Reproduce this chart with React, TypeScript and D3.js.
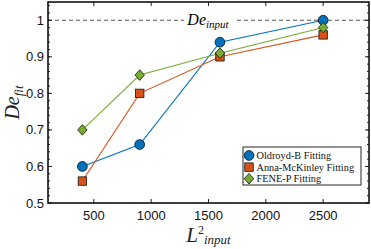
import React, { useEffect, useRef } from "react";
import * as d3 from "d3";

const xValues = [400, 900, 1600, 2500];
const oldroyd = [0.6, 0.66, 0.94, 1.0];
const anna = [0.56, 0.8, 0.9, 0.96];
const fene = [0.7, 0.85, 0.91, 0.98];
const xTicks = [500, 1000, 1500, 2000, 2500];
const yTicks = [0.5, 0.6, 0.7, 0.8, 0.9, 1];

const series = [
  { name: "Oldroyd-B Fitting", values: oldroyd, color: "#0072BD", shape: "circle" },
  { name: "Anna-McKinley Fitting", values: anna, color: "#D95319", shape: "square" },
  { name: "FENE-P Fitting", values: fene, color: "#77AC30", shape: "diamond" },
];

const W = 371;
const H = 249;
const m = { left: 48, right: 2, top: 2, bottom: 46 };

const App = () => {
  const ref = useRef<SVGSVGElement>(null);

  useEffect(() => {
    const svg = d3.select(ref.current);
    svg.selectAll("*").remove();

    const x = d3.scaleLinear().domain([100, 2900]).range([m.left, W - m.right]);
    const y = d3.scaleLinear().domain([0.5, 1.05]).range([H - m.bottom, m.top]);
    const x0 = m.left, x1 = W - m.right, y0 = H - m.bottom, y1 = m.top;

    const g = svg.append("g");

    // dashed reference line
    g.append("line")
      .attr("x1", x0).attr("x2", x1)
      .attr("y1", y(1)).attr("y2", y(1))
      .attr("stroke", "#555").attr("stroke-width", 1.2)
      .attr("stroke-dasharray", "4,3");
    g.append("rect")
      .attr("x", 184).attr("y", y(1) - 9).attr("width", 50).attr("height", 18)
      .attr("fill", "white");
    const lab = g.append("text")
      .attr("x", 208).attr("y", y(1) + 5)
      .attr("text-anchor", "middle")
      .attr("font-family", "Liberation Serif, serif")
      .attr("font-style", "italic");
    lab.append("tspan").attr("font-size", 16).text("De");
    lab.append("tspan").attr("font-size", 11).attr("dy", 3).text("input");

    // y minor ticks
    const minor = d3.range(0.5, 1.0501, 0.02);
    minor.forEach(v => {
      g.append("line").attr("x1", x0).attr("x2", x0 + 2).attr("y1", y(v)).attr("y2", y(v)).attr("stroke", "#222");
      g.append("line").attr("x1", x1).attr("x2", x1 - 2).attr("y1", y(v)).attr("y2", y(v)).attr("stroke", "#222");
    });
    yTicks.forEach(v => {
      g.append("line").attr("x1", x0).attr("x2", x0 + 4).attr("y1", y(v)).attr("y2", y(v)).attr("stroke", "#222");
      g.append("line").attr("x1", x1).attr("x2", x1 - 4).attr("y1", y(v)).attr("y2", y(v)).attr("stroke", "#222");
      g.append("text").attr("x", x0 - 4).attr("y", y(v) + 4.5)
        .attr("text-anchor", "end").attr("font-family", "Liberation Sans, Arial, sans-serif")
        .attr("font-size", 13).attr("fill", "#111").text(v === 1 ? "1" : d3.format(".1f")(v));
    });
    xTicks.forEach(v => {
      g.append("line").attr("x1", x(v)).attr("x2", x(v)).attr("y1", y0).attr("y2", y0 - 4).attr("stroke", "#222");
      g.append("line").attr("x1", x(v)).attr("x2", x(v)).attr("y1", y1).attr("y2", y1 + 4).attr("stroke", "#222");
      g.append("text").attr("x", x(v)).attr("y", y0 + 17)
        .attr("text-anchor", "middle").attr("font-family", "Liberation Sans, Arial, sans-serif")
        .attr("font-size", 13).attr("fill", "#111").text(String(v));
    });

    const line = d3.line<number>().x((_, i) => x(xValues[i])).y(d => y(d));

    const drawMarker = (sel: any, shape: string, cx: number, cy: number, color: string) => {
      if (shape === "circle") {
        sel.append("circle").attr("cx", cx).attr("cy", cy).attr("r", 4.9)
          .attr("fill", color).attr("stroke", "#111").attr("stroke-width", 0.8);
      } else if (shape === "square") {
        sel.append("rect").attr("x", cx - 4.2).attr("y", cy - 4.2).attr("width", 8.4).attr("height", 8.4)
          .attr("fill", color).attr("stroke", "#111").attr("stroke-width", 0.8);
      } else {
        sel.append("path").attr("d", `M${cx},${cy - 5.3}L${cx + 4.7},${cy}L${cx},${cy + 5.3}L${cx - 4.7},${cy}Z`)
          .attr("fill", color).attr("stroke", "#111").attr("stroke-width", 0.8);
      }
    };

    series.forEach(s => {
      g.append("path").attr("d", line(s.values)).attr("fill", "none")
        .attr("stroke", s.color).attr("stroke-width", 1.1);
    });
    series.forEach(s => {
      s.values.forEach((v, i) => drawMarker(g, s.shape, x(xValues[i]), y(v), s.color));
    });

    // frame
    g.append("rect").attr("x", x0).attr("y", y1).attr("width", x1 - x0).attr("height", y0 - y1)
      .attr("fill", "none").attr("stroke", "#111").attr("stroke-width", 1.6);

    // legend
    const lg = g.append("g");
    lg.append("rect").attr("x", 243).attr("y", 147).attr("width", 118).attr("height", 38)
      .attr("fill", "white").attr("stroke", "#111").attr("stroke-width", 0.9);
    series.forEach((s, i) => {
      const ly = 155.5 + i * 11.6;
      lg.append("line").attr("x1", 244).attr("x2", 253).attr("y1", ly).attr("y2", ly)
        .attr("stroke", s.color).attr("stroke-width", 1.1);
      drawMarker(lg, s.shape, 249, ly, s.color);
      lg.append("text").attr("x", 256.5).attr("y", ly + 3.5)
        .attr("font-family", "Liberation Serif, serif").attr("font-size", 10.3)
        .attr("fill", "#111").text(s.name);
    });

    // y label
    const yl = g.append("text")
      .attr("transform", `translate(19,${(y0 + y1) / 2}) rotate(-90)`)
      .attr("text-anchor", "middle")
      .attr("font-family", "Liberation Serif, serif").attr("font-style", "italic").attr("fill", "#222");
    yl.append("tspan").attr("font-size", 20).text("De");
    yl.append("tspan").attr("font-size", 13).attr("dy", 4).text("fit");

    // x label
    const xl = g.append("text")
      .attr("x", (x0 + x1) / 2).attr("y", 242)
      .attr("text-anchor", "middle")
      .attr("font-family", "Liberation Serif, serif").attr("font-style", "italic").attr("fill", "#222");
    xl.append("tspan").attr("font-size", 21).text("L");
    xl.append("tspan").attr("font-size", 12).attr("font-style", "normal").attr("dy", -8).text("2");
    xl.append("tspan").attr("font-size", 13).attr("dy", 10).text("input");
  }, []);

  return (
    <svg ref={ref} width={W} height={H} style={{ position: "absolute", left: 0, top: 0, background: "white" }} />
  );
};

export default App;
